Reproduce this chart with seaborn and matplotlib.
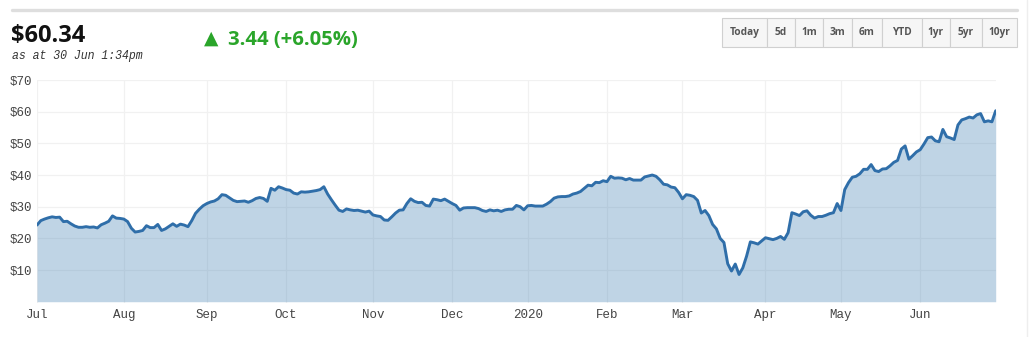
import numpy as np
import pandas as pd
import matplotlib
matplotlib.use("Agg")
import matplotlib.pyplot as plt
from matplotlib.patches import Rectangle
from matplotlib.lines import Line2D
import seaborn as sns

# ---------------- data ----------------
start_date = "2019-07-01"
end_date = "2020-06-30"
holidays = ["2019-12-25", "2019-12-26", "2020-01-01", "2020-01-27",
            "2020-04-10", "2020-04-13", "2020-06-08"]

prices = [
    # Jul 2019
    24.2, 25.6, 26.1, 26.5, 26.8, 26.6, 26.7, 25.3, 25.4, 24.6, 23.9, 23.5,
    23.5, 23.7, 23.5, 23.6, 23.3, 24.3, 24.8, 25.4, 27.1, 26.4, 26.3,
    # Aug
    26.1, 25.3, 23.2, 22.0, 22.2, 22.5, 24.0, 23.4, 23.4, 24.4, 22.5, 23.0,
    23.8, 24.6, 23.8, 24.5, 24.2, 23.7, 25.6, 27.9, 29.2, 30.3,
    # Sep
    31.0, 31.5, 31.8, 32.5, 33.8, 33.6, 32.8, 32.0, 31.6, 31.7, 31.8, 31.4,
    31.9, 32.6, 32.9, 32.6, 31.7, 35.8, 35.2, 36.3, 35.9,
    # Oct
    35.4, 35.2, 34.3, 34.0, 34.7, 34.6, 34.7, 34.9, 35.1, 35.4, 36.3, 34.0,
    32.2, 30.5, 28.9, 28.5, 29.3, 29.0, 28.8, 28.9, 28.6, 28.3, 28.6,
    # Nov
    27.4, 27.1, 26.9, 25.8, 25.7, 26.8, 28.0, 28.9, 29.0, 31.0, 32.5, 31.7,
    31.3, 31.4, 30.4, 30.2, 32.4, 32.2, 31.9, 32.4, 31.7,
    # Dec
    31.0, 30.4, 28.9, 29.6, 29.7, 29.7, 29.7, 29.4, 28.8, 28.5, 29.0, 28.7,
    28.9, 28.5, 29.0, 29.2, 29.2, 30.4, 30.0, 29.0,
    # Jan 2020
    30.3, 30.4, 30.2, 30.2, 30.2, 30.8, 31.6, 32.7, 33.1, 33.2, 33.2, 33.4,
    34.0, 34.3, 34.8, 35.8, 36.8, 36.6, 37.7, 37.6, 38.2,
    # Feb
    37.9, 39.6, 39.0, 39.1, 39.0, 38.5, 38.9, 38.4, 38.4, 38.4, 39.4, 39.7,
    40.0, 39.6, 38.5, 37.1, 36.9, 36.2, 36.0, 34.5,
    # Mar
    32.5, 33.8, 33.6, 33.2, 32.0, 28.0, 28.8, 27.2, 24.4, 23.0, 20.0, 18.7,
    12.0, 9.7, 11.9, 8.6, 10.7, 14.4, 18.9, 18.6, 18.2, 19.2,
    # Apr
    20.2, 19.9, 19.6, 20.0, 20.6, 19.7, 21.8, 28.1, 27.7, 27.2, 28.4, 28.7,
    27.3, 26.4, 26.9, 26.9, 27.3, 27.8, 28.1, 31.0,
    # May
    28.8, 35.4, 37.6, 39.3, 39.6, 40.4, 41.8, 41.8, 43.3, 41.4, 41.1, 41.9,
    42.0, 42.9, 44.0, 44.6, 48.2, 49.2, 45.0, 46.1, 47.3,
    # Jun
    48.0, 49.8, 51.8, 52.0, 50.8, 50.5, 54.4, 52.1, 51.7, 51.2, 55.8, 57.4,
    57.8, 58.3, 58.0, 59.0, 59.4, 56.8, 57.1, 56.8, 60.3,
]

month_labels = ["Jul", "Aug", "Sep", "Oct", "Nov", "Dec",
                "2020", "Feb", "Mar", "Apr", "May", "Jun"]
y_ticks = [10, 20, 30, 40, 50, 60, 70]
y_tick_labels = ["$10", "$20", "$30", "$40", "$50", "$60", "$70"]

last_price = "$60.34"
timestamp = "as at 30 Jun 1:34pm"
change_text = "3.44 (+6.05%)"
range_buttons = ["Today", "5d", "1m", "3m", "6m", "YTD", "1yr", "5yr", "10yr"]

# ---------------- build frame ----------------
dates = pd.bdate_range(start_date, end_date)
dates = dates[~dates.isin(pd.to_datetime(holidays))]
n = min(len(dates), len(prices))
df = pd.DataFrame({"date": dates[:n], "price": prices[:n]})
df["pos"] = np.arange(n)
month_key = df["date"].dt.to_period("M")
month_starts = df.loc[month_key != month_key.shift(), "pos"].tolist()

# ---------------- figure ----------------
sns.set_style("white")
plt.rcParams["font.family"] = ["Open Sans", "DejaVu Sans"]

W, H = 1032, 337
fig = plt.figure(figsize=(W / 100, H / 100), dpi=100)

def fx(x):
    return x / W

def fy(y):
    return 1 - y / H

left, right, top, bottom = 37, 995.7, 80, 303
ax = fig.add_axes([fx(left), fy(bottom), fx(right - left), (bottom - top) / H])

line_col = "#2f6ea9"
fill_col = (70 / 255, 130 / 255, 180 / 255, 0.34)

for v in y_ticks:
    ax.axhline(v, color="#f1f1f1", lw=0.9, zorder=0)
for m in month_starts:
    ax.axvline(m, color="#f1f1f1", lw=0.9, zorder=0)

ax.fill_between(df["pos"], 0, df["price"], color=fill_col, lw=0, zorder=1)
sns.lineplot(data=df, x="pos", y="price", ax=ax, color=line_col,
             linewidth=2.1, zorder=2)

ax.set_xlim(0, n - 1)
ax.set_ylim(-0.4, 70)
ax.set_xlabel("")
ax.set_ylabel("")
ax.set_yticks(y_ticks)
ax.set_yticklabels(y_tick_labels)
ax.set_xticks(month_starts)
ax.set_xticklabels(month_labels[:len(month_starts)])
ax.tick_params(axis="both", length=0, labelsize=9, labelcolor="#444444")
ax.tick_params(axis="y", pad=3.5)
ax.tick_params(axis="x", pad=4)
for lab in ax.get_xticklabels() + ax.get_yticklabels():
    lab.set_fontfamily("Liberation Mono")
for s in ax.spines.values():
    s.set_visible(False)
ax.grid(False)

# ---------------- header ----------------
fig.add_artist(Line2D([fx(12), fx(1017)], [fy(10), fy(10)],
                      color="#dedede", lw=2.4))
fig.add_artist(Line2D([fx(1026.5), fx(1026.5)], [fy(0), fy(337)],
                      color="#eeeeee", lw=1.0))

fig.text(fx(11.5), fy(41.7), last_price, fontsize=17, fontweight="bold",
         color="#111111", va="baseline", ha="left", family="Open Sans")
fig.text(fx(12), fy(58.5), timestamp, fontsize=8.3, fontstyle="italic",
         color="#333333", va="baseline", ha="left", family="Liberation Mono")

green = "#2aa52a"
fig.text(fx(204), fy(38.2), "\u25B2", fontsize=13.5, color=green,
         va="center", ha="left", family="DejaVu Sans")
fig.text(fx(228), fy(45), change_text, fontsize=14.6, fontweight="bold",
         color=green, va="baseline", ha="left", family="Open Sans")

edges = [722.3, 766.7, 795, 823.3, 851.7, 881.7, 921.7, 950, 981.7, 1016.7]
by0, by1 = 18.3, 46.7
for i, lab in enumerate(range_buttons):
    x0, x1 = edges[i], edges[i + 1]
    fig.add_artist(Rectangle((fx(x0), fy(by1)), fx(x1 - x0), (by1 - by0) / H,
                             facecolor="#f6f6f6", edgecolor="#d0d0d0", lw=0.8))
    fig.text(fx((x0 + x1) / 2), fy((by0 + by1) / 2), lab, fontsize=7.3,
             fontweight="bold", color="#555555", ha="center", va="center",
             family="Open Sans")

fig.savefig("out.png", dpi=100)
